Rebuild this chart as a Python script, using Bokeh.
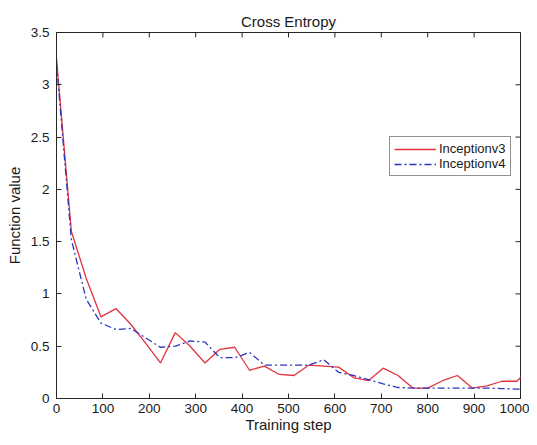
import math
from bokeh.plotting import figure
from bokeh.models import Legend, FixedTicker, Range1d
from bokeh.embed import file_html
from bokeh.resources import INLINE

# ---- data ----
steps = [0, 32, 64, 96, 128, 160, 192, 224, 256, 288, 320, 352, 384, 416, 448, 480,
         512, 544, 576, 608, 640, 672, 704, 736, 768, 800, 832, 864, 896, 928, 960, 992, 1024]
inception_v3 = [3.25, 1.60, 1.15, 0.78, 0.86, 0.71, 0.53, 0.34, 0.63, 0.50, 0.34, 0.47,
                0.49, 0.27, 0.31, 0.23, 0.22, 0.32, 0.31, 0.30, 0.20, 0.17, 0.29, 0.22,
                0.10, 0.10, 0.17, 0.22, 0.10, 0.12, 0.165, 0.165, 0.30]
inception_v4 = [3.20, 1.52, 0.95, 0.72, 0.66, 0.67, 0.58, 0.49, 0.50, 0.55, 0.54, 0.39,
                0.39, 0.44, 0.32, 0.32, 0.32, 0.32, 0.37, 0.25, 0.22, 0.18, 0.14, 0.105,
                0.10, 0.10, 0.10, 0.10, 0.10, 0.10, 0.095, 0.09, 0.09]
series_names = ["Inceptionv3", "Inceptionv4"]
x_ticks = [0, 100, 200, 300, 400, 500, 600, 700, 800, 900, 1000]
x_tick_labels = ["0", "100", "200", "300", "400", "500", "600", "700", "800", "900", "1000"]
y_ticks = [0, 0.5, 1, 1.5, 2, 2.5, 3, 3.5]
y_tick_labels = ["0", "0.5", "1", "1.5", "2", "2.5", "3", "3.5"]

FONT = "Liberation Sans"
AX = "#262626"
TXT = "#1a1a1a"

x_lo, x_hi = x_ticks[0], x_ticks[-1]
y_lo, y_hi = y_ticks[0], y_ticks[-1]

p = figure(width=529, height=437, output_backend="svg", toolbar_location=None,
           x_range=Range1d(x_lo, x_hi), y_range=Range1d(y_lo, y_hi),
           min_border_left=56, min_border_right=9, min_border_top=32, min_border_bottom=39,
           background_fill_color="white", border_fill_color="white")
p.grid.visible = False
p.outline_line_color = AX

p.title.text = "Cross Entropy"
p.title.align = "center"
p.title.text_font = FONT
p.title.text_font_size = "15px"
p.title.text_font_style = "normal"
p.title.text_color = TXT
p.title.standoff = 6

r1 = p.line(steps, inception_v3, line_color="#e2343c", line_width=1.3)
r2 = p.line(steps, inception_v4, line_color="#2a36c0", line_width=1.3, line_dash="7 3 2 3")

# mirrored inward ticks on top and right edges (clipped to the frame)
p.scatter(x=x_ticks, y=[y_hi] * len(x_ticks), marker="dash", size=10, angle=math.pi / 2,
          line_color=AX, line_width=1)
p.scatter(x=[x_hi] * len(y_ticks), y=y_ticks, marker="dash", size=10,
          line_color=AX, line_width=1)

def style_axis(ax, ticks, labels):
    ax.ticker = FixedTicker(ticks=ticks)
    ax.major_tick_in = 5
    ax.major_tick_out = 0
    ax.minor_tick_line_color = None
    ax.axis_line_color = AX
    ax.major_tick_line_color = AX
    ax.major_label_text_font = FONT
    ax.major_label_text_color = TXT
    ax.major_label_overrides = {t: l for t, l in zip(ticks, labels)}
    ax.major_label_text_font_size = "13.5px"
    ax.axis_label_text_font = FONT
    ax.axis_label_text_font_size = "15px"
    ax.axis_label_text_font_style = "normal"
    ax.axis_label_text_color = TXT

xa = p.xaxis[0]
style_axis(xa, x_ticks, x_tick_labels)
xa.major_label_standoff = 5
xa.axis_label = "Training step"
xa.axis_label_standoff = 0

ya = p.yaxis[0]
style_axis(ya, y_ticks, y_tick_labels)
ya.major_label_standoff = 7
ya.axis_label = "Function value"
ya.axis_label_standoff = 5

legend = Legend(items=[(series_names[0], [r1]), (series_names[1], [r2])],
                location=(333, 222), orientation="vertical",
                glyph_width=42, glyph_height=14, label_height=14, label_standoff=3,
                padding=4, spacing=0, margin=0,
                label_text_font=FONT, label_text_font_size="13px", label_text_color=TXT,
                border_line_color=AX, border_line_width=1,
                background_fill_color="white", background_fill_alpha=1)
p.add_layout(legend)

open("out.html", "w").write(file_html(p, INLINE))
